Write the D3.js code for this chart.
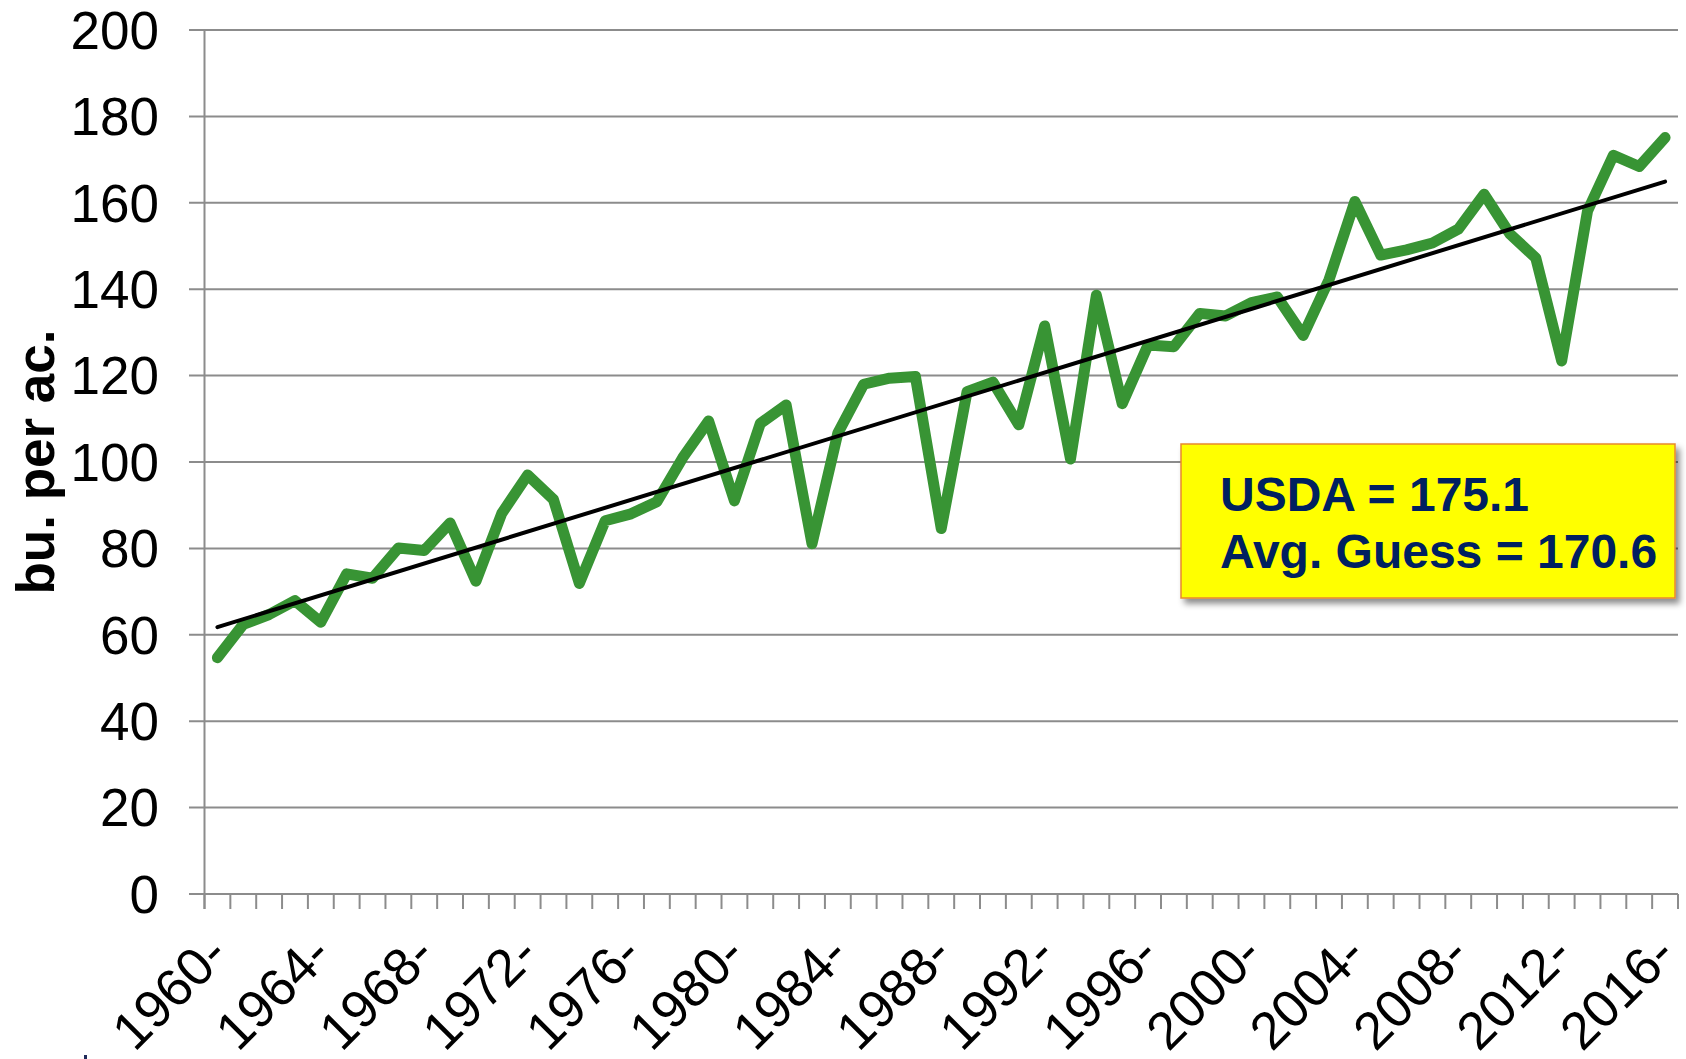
<!DOCTYPE html>
<html>
<head>
<meta charset="utf-8">
<script src="https://cdn.jsdelivr.net/npm/d3@7"></script>
<style>
  html, body { margin: 0; padding: 0; background: #fff; }
  svg { display: block; }
  text { font-family: "Liberation Sans", Arial, sans-serif; }
</style>
</head>
<body>
<svg id="chart" width="1686" height="1059"></svg>
<script>
// ---- data ----
const years = d3.range(1960, 2017);
const yields = [
  54.7, 62.4, 64.7, 67.9, 62.9, 74.1, 73.1, 80.1, 79.5, 85.9,
  72.4, 88.1, 97.0, 91.3, 71.9, 86.4, 88.0, 90.8, 101.0, 109.5,
  91.0, 108.9, 113.2, 81.1, 106.7, 118.0, 119.4, 119.8, 84.6, 116.3,
  118.5, 108.6, 131.5, 100.7, 138.6, 113.5, 127.1, 126.7, 134.4, 133.8,
  136.9, 138.2, 129.3, 142.2, 160.3, 147.9, 149.1, 150.7, 153.9, 162.0,
  152.8, 147.2, 123.4, 158.1, 171.0, 168.4, 175.1
];
const yTicks = [0, 20, 40, 60, 80, 100, 120, 140, 160, 180, 200];
const xLabelYears = [1960, 1964, 1968, 1972, 1976, 1980, 1984, 1988, 1992, 1996, 2000, 2004, 2008, 2012, 2016];
const yTitle = "bu. per ac.";
const boxLines = ["USDA = 175.1", "Avg. Guess = 170.6"];

(function () {
// ---- layout ----
const svg = d3.select("#chart");
const mLeft = 204.5, mRight = 1678, mTop = 30, mBottom = 894;

const x = d3.scaleBand().domain(years).range([mLeft, mRight]).padding(0);
const y = d3.scaleLinear().domain([0, 200]).range([mBottom, mTop]);
const xc = d => x(d) + x.bandwidth() / 2;

// shadow filter
const defs = svg.append("defs");
const f = defs.append("filter").attr("id", "shadow").attr("x", "-10%").attr("y", "-10%").attr("width", "130%").attr("height", "140%");
f.append("feDropShadow").attr("dx", 4).attr("dy", 5).attr("stdDeviation", 3)
  .attr("flood-color", "#000").attr("flood-opacity", 0.45);

// gridlines (extend left as outside ticks)
svg.append("g").selectAll("line").data(yTicks).join("line")
  .attr("x1", mLeft - 15.5).attr("x2", mRight)
  .attr("y1", d => y(d)).attr("y2", d => y(d))
  .attr("stroke", "#8c8c8c").attr("stroke-width", 2);

// y axis line
svg.append("line").attr("x1", mLeft).attr("x2", mLeft).attr("y1", mTop).attr("y2", mBottom + 15)
  .attr("stroke", "#8c8c8c").attr("stroke-width", 2);

// x ticks at category boundaries
const boundaries = years.map(d => x(d)).concat([mRight]);
svg.append("g").selectAll("line").data(boundaries).join("line")
  .attr("x1", d => d).attr("x2", d => d)
  .attr("y1", mBottom).attr("y2", mBottom + 15)
  .attr("stroke", "#8c8c8c").attr("stroke-width", 2);

// y tick labels
svg.append("g").selectAll("text").data(yTicks).join("text")
  .attr("x", 159).attr("y", d => y(d))
  .attr("dy", "0.355em")
  .attr("text-anchor", "end")
  .attr("font-size", 53)
  .attr("fill", "#000")
  .text(d => d);

// x tick labels
svg.append("g").selectAll("text").data(xLabelYears).join("text")
  .attr("transform", d => `translate(${xc(d) + 13},${957}) rotate(-45)`)
  .attr("text-anchor", "end")
  .attr("font-size", 53)
  .attr("fill", "#000")
  .text(d => d + "-");

// y axis title
svg.append("text")
  .attr("transform", `translate(54,${(mTop + mBottom) / 2}) rotate(-90)`)
  .attr("text-anchor", "middle")
  .attr("font-size", 53)
  .attr("font-weight", "bold")
  .attr("fill", "#000")
  .text(yTitle);

// data line
const line = d3.line().x((d, i) => xc(years[i])).y(d => y(d));
svg.append("path").datum(yields)
  .attr("d", line)
  .attr("fill", "none")
  .attr("stroke", "#389434")
  .attr("stroke-width", 11)
  .attr("stroke-linejoin", "round")
  .attr("stroke-linecap", "round");

// linear trend (least squares)
const n = yields.length;
const idx = d3.range(n);
const mx = d3.mean(idx), my = d3.mean(yields);
const slope = d3.sum(idx, i => (i - mx) * (yields[i] - my)) / d3.sum(idx, i => (i - mx) ** 2);
const intercept = my - slope * mx;
const trend = [0, n - 1].map(i => [xc(years[i]), y(intercept + slope * i)]);
svg.append("path")
  .attr("d", d3.line()(trend))
  .attr("fill", "none")
  .attr("stroke", "#000")
  .attr("stroke-width", 4)
  .attr("stroke-linecap", "round");

// annotation box
const bx = 1181, by = 444, bw = 494, bh = 154;
svg.append("rect")
  .attr("x", bx).attr("y", by).attr("width", bw).attr("height", bh)
  .attr("fill", "#ffff00")
  .attr("stroke", "#e8892b").attr("stroke-width", 1.5)
  .attr("filter", "url(#shadow)");
svg.append("g").selectAll("text").data(boxLines).join("text")
  .attr("x", 1220).attr("y", (d, i) => 511 + i * 57)
  .attr("font-size", 48)
  .attr("font-weight", "bold")
  .attr("fill", "#002060")
  .text(d => d);

// small navy mark at bottom left (cropped element in the original)
svg.append("rect").attr("x", 84).attr("y", 1055).attr("width", 3).attr("height", 4).attr("fill", "#1f2a5a");
})();
</script>
</body>
</html>
